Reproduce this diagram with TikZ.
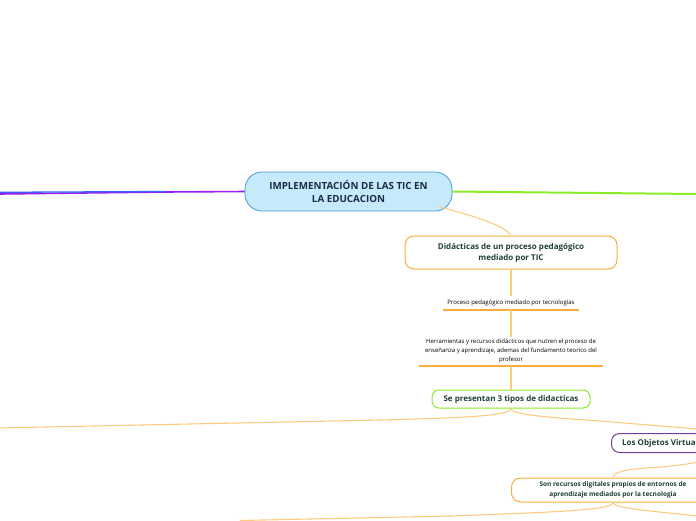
\documentclass[tikz,border=0pt]{standalone}
\usepackage{fontspec}
\setmainfont{Open Sans}
\definecolor{txtgreen}{HTML}{1F4037}
\definecolor{txtnavy}{HTML}{1B2A48}
\definecolor{mainfill}{HTML}{C7EAFA}
\definecolor{mainedge}{HTML}{4A98D6}
\definecolor{orng}{HTML}{F9AE3A}
\definecolor{lorng}{HTML}{FDCB80}
\definecolor{grn}{HTML}{8CEB2A}
\definecolor{purp}{HTML}{9B1CF0}
\definecolor{blu}{HTML}{3A63F5}
\definecolor{vio}{HTML}{7A3C9E}
\tikzset{
  topic/.style={draw=orng, line width=1pt, fill=white, rounded corners=9pt, align=center, text=txtgreen, font=\fontsize{8}{11}\selectfont\bfseries, inner sep=0pt},
  conn/.style={draw=lorng, line width=1.1pt},
  note/.style={align=center, text=black, font=\fontsize{6}{9}\selectfont, inner sep=0pt},
  uline/.style={draw=orng, line width=1.2pt}
}
\begin{document}
\begin{tikzpicture}[x=1pt,y=-1pt]
\useasboundingbox (0,0) rectangle (696,520);
% left lines
\draw[purp, line width=1.6pt] (246,191.5) -- (165,192) -- (0,194);
\draw[blu, line width=1.3pt] (165,191.5) -- (0,192.3);
% right line
\draw[grn, line width=2pt] (451,191.5) -- (696,194);
% main node
\node[draw=mainedge, fill=mainfill, line width=0.8pt, rounded corners=17pt, minimum width=207pt, minimum height=39pt, align=center, text=txtnavy, font=\fontsize{9.8}{13.5}\selectfont\bfseries, inner sep=0pt] (main) at (348.5,191.5) {IMPLEMENTACIÓN DE LAS TIC EN\\LA EDUCACION};
% didacticas node
\node[topic, minimum width=212pt, minimum height=33pt] (did) at (511,252.5) {Didácticas de un proceso pedagógico\\mediado por TIC};
\draw[conn] (440,207) .. controls (470,215) and (505,225) .. (did.north);
% proceso
\node[note] (proc) at (511,302.5) {Proceso pedagógico mediado por tecnologías};
\coordinate (p1) at (443,310);
\coordinate (p2) at (579,310);
\coordinate (pm) at (511,310);
\draw[uline] (p1) -- (p2);
\coordinate (pt) at (511,296);
\draw[conn] (did.south) -- (pt);
% herramientas
\node[note] (herr) at (511,350.5) {Herramientas y recursos didácticos que nutren el proceso de\\enseñanza y aprendizaje, ademas del fundamento teorico del\\profesor};
\coordinate (h1) at (419,366);
\coordinate (h2) at (603,366);
\coordinate (hm) at (511,366);
\coordinate (ht) at (511,337);
\draw[uline] (h1) -- (h2);
\draw[conn] (pm) -- (ht);
% se presentan
\node[topic, draw=grn, rounded corners=7pt, minimum width=158pt, minimum height=18pt] (sep) at (511,399) {Se presentan 3 tipos de didacticas};
\draw[conn] (hm) -- (sep.north);
% branches
\coordinate (lend) at (-2,428);
\coordinate (rend) at (698,429);
\draw[conn] (sep.south) .. controls (511,416) and (460,418) .. (380,420) -- (lend);
\draw[conn] (sep.south) .. controls (511,414) and (540,417) .. (600,421) -- (rend);
% los objetos virtuales
\node[topic, draw=vio, rounded corners=8pt, minimum height=19pt, minimum width=120pt, anchor=west] (lov) at (611,443) {\hspace*{-14pt}Los Objetos Virtuales};
% son recursos
\node[topic, rounded corners=9pt, minimum width=203pt, minimum height=24pt, font=\fontsize{6.5}{10}\selectfont\bfseries] (son) at (613,490) {Son recursos digitales propios de entornos de\\aprendizaje mediados por la tecnologia};
\coordinate (t1) at (698,462);
\draw[conn] (t1) .. controls (660,470) and (615,466) .. (son.north);
\coordinate (b1) at (240,520.5);
\coordinate (b2) at (698,516);
\draw[conn] (son.south) .. controls (613,510) and (560,512) .. (450,516) -- (b1);
\draw[conn] (son.south) .. controls (613,508) and (650,511) .. (b2);
\end{tikzpicture}
\end{document}
